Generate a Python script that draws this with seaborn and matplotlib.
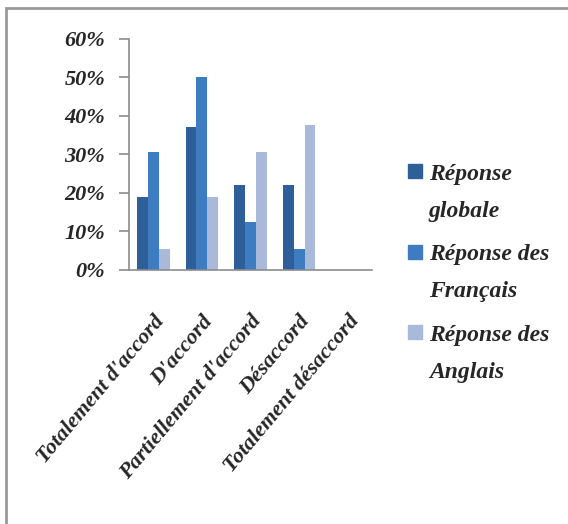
import seaborn as sns
import matplotlib.pyplot as plt
import pandas as pd
from matplotlib.patches import Rectangle
from matplotlib.legend_handler import HandlerPatch

categories = ["Totalement d'accord", "D'accord", "Partiellement d'accord",
              "Désaccord", "Totalement désaccord"]
series = ["Réponse\nglobale", "Réponse des\nFrançais", "Réponse des\nAnglais"]
globale = [19, 37, 22, 22, 0]
francais = [30.5, 50, 12.5, 5.5, 0]
anglais = [5.5, 19, 30.5, 37.5, 0]
colors = ["#2f5f98", "#3e7cc1", "#a8b9d9"]
yticks = [0, 10, 20, 30, 40, 50, 60]

df = pd.DataFrame({
    'cat': categories * 3,
    'serie': [series[0]] * 5 + [series[1]] * 5 + [series[2]] * 5,
    'val': globale + francais + anglais,
})

sns.set_theme(style='white')
plt.rcParams['font.family'] = ['Liberation Serif', 'DejaVu Serif']
plt.rcParams['font.weight'] = 'bold'
plt.rcParams['font.style'] = 'italic'

fig = plt.figure(figsize=(5.68, 5.24), dpi=100)
ax = fig.add_axes([0.227, 0.485, 0.428, 0.441])

sns.barplot(data=df, x='cat', y='val', hue='serie', order=categories,
            hue_order=series, palette=colors, width=0.67, linewidth=0,
            saturation=1, ax=ax)

gray = '#8c8c8c'
ax.set_ylim(0, 60)
ax.set_xlim(-0.5, 4.5)
ax.set_yticks(yticks, [f'{v}%' for v in yticks], fontsize=16)
ax.set_xticks(range(len(categories)), categories, fontsize=16,
              rotation=50, ha='right', rotation_mode='anchor')
ax.set_xticks([i - 0.5 for i in range(len(categories) + 1)], minor=True)
ax.tick_params(axis='x', which='major', length=0, pad=30)
ax.tick_params(axis='x', which='minor', length=7, color=gray, width=1.2, direction='out')
ax.tick_params(axis='y', length=7, color=gray, width=1.2, direction='out', left=True, pad=10)
for lab in ax.get_xticklabels():
    lab.set_va('top')
ax.set_xlabel('')
ax.set_ylabel('')
for s in ['top', 'right']:
    ax.spines[s].set_visible(False)
for s in ['left', 'bottom']:
    ax.spines[s].set_color(gray)
    ax.spines[s].set_linewidth(1.2)


def square_top(legend, orig_handle, xdescent, ydescent, width, height, fontsize):
    s = 10
    return Rectangle((width - s, height / 2 - s / 2 + 0.9 * fontsize), s, s)


ax.legend_.remove()
handles = [Rectangle((0, 0), 1, 1, color=c) for c in colors]
leg = fig.legend(handles, series, loc='upper left', bbox_to_anchor=(0.672, 0.728),
                 frameon=False, fontsize=17, handlelength=0.8, handletextpad=0.3,
                 labelspacing=0.95,
                 handler_map={Rectangle: HandlerPatch(patch_func=square_top)})
for t in leg.get_texts():
    t.set_linespacing(2.0)

border = Rectangle((6 / 568, -0.1), 1.2, 1 - 8 / 524 + 0.1, transform=fig.transFigure,
                   fill=False, edgecolor='#999999', linewidth=2)
fig.patches.append(border)

fig.savefig('out.png', dpi=100)
